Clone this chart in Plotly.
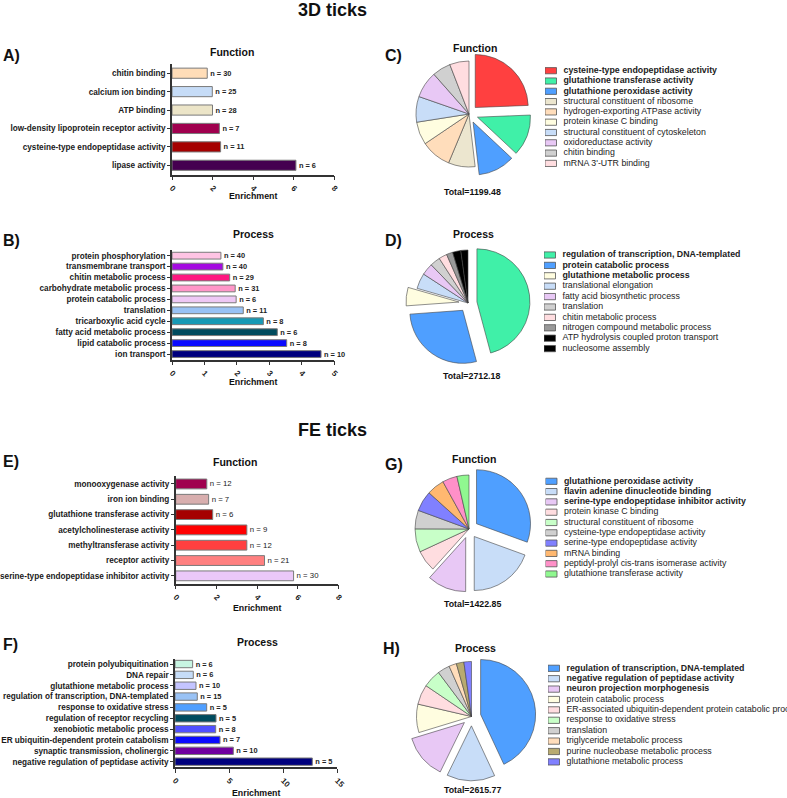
import plotly.graph_objects as go

W, H = 787, 798
FONT = "Arial, Liberation Sans, sans-serif"

# ---------------- data ----------------
# Panel A (3D ticks, Function)
a_terms = ["chitin binding", "calcium ion binding", "ATP binding",
           "low-density lipoprotein receptor activity",
           "cysteine-type endopeptidase activity", "lipase activity"]
a_enrich = [1.74, 1.99, 2.0, 2.34, 2.4, 6.12]
a_n = [30, 25, 28, 7, 11, 6]
a_colors = ["#FFDDB8", "#C6DCF7", "#ECE5C8", "#A0004E", "#A50000", "#450050"]

# Panel B (3D ticks, Process)
b_terms = ["protein phosphorylation", "transmembrane transport", "chitin metabolic process",
           "carbohydrate metabolic process", "protein catabolic process", "translation",
           "tricarboxylic acid cycle", "fatty acid metabolic process",
           "lipid catabolic process", "ion transport"]
b_enrich = [1.51, 1.57, 1.78, 1.95, 1.98, 2.2, 2.82, 3.25, 3.54, 4.6]
b_n = [40, 40, 29, 31, 6, 11, 8, 6, 8, 10]
b_colors = ["#FFC4E4", "#A40AE0", "#FF1680", "#FF96C8", "#EEC8F5", "#99C2F5",
            "#1799B5", "#004B5E", "#0A0AFF", "#00007E"]

# Panel E (FE ticks, Function)
e_terms = ["monooxygenase activity", "iron ion binding", "glutathione transferase activity",
           "acetylcholinesterase activity", "methyltransferase activity",
           "receptor activity", "serine-type endopeptidase inhibitor activity"]
e_enrich = [1.53, 1.62, 1.82, 3.5, 3.5, 4.37, 5.8]
e_n = [12, 7, 6, 9, 12, 21, 30]
e_colors = ["#A0004E", "#D8AEAE", "#A50000", "#FF0000", "#FF4040", "#FF8080", "#EAC8F8"]

# Panel F (FE ticks, Process)
f_terms = ["protein polyubiquitination", "DNA repair", "glutathione metabolic process",
           "regulation of transcription, DNA-templated", "response to oxidative stress",
           "regulation of receptor recycling", "xenobiotic metabolic process",
           "ER ubiquitin-dependent protein catabolism", "synaptic transmission, cholinergic",
           "negative regulation of peptidase activity"]
f_enrich = [1.63, 1.69, 1.94, 2.06, 2.93, 3.79, 3.76, 4.16, 5.39, 12.69]
f_n = [6, 6, 10, 15, 5, 5, 8, 7, 10, 5]
f_colors = ["#C8F5E2", "#C6DCF7", "#C4C4FF", "#99C2F5", "#4F9FFF", "#004B5E",
            "#5050FF", "#0A0AFF", "#7000A0", "#00007E"]

# Pie C (3D ticks, Function)
c_labels = ["cysteine-type endopeptidase activity", "glutathione transferase activity",
            "glutathione peroxidase activity", "structural constituent of ribosome",
            "hydrogen-exporting ATPase activity", "protein kinase C binding",
            "structural constituent of cytoskeleton", "oxidoreductase activity",
            "chitin binding", "mRNA 3'-UTR binding"]
c_values = [290, 150, 133, 97, 110, 83, 93, 97, 67, 70]
c_colors = ["#FF4040", "#40F0A8", "#4F9FFF", "#ECE6CF", "#FFDDBB", "#FFFDE0",
            "#C8DDF8", "#E8C8F5", "#D0D0D0", "#FFDDE0"]
c_total = "Total=1199.48"

# Pie D (3D ticks, Process)
d_labels = ["regulation of transcription, DNA-templated", "protein catabolic process",
            "glutathione metabolic process", "translational elongation",
            "fatty acid biosynthetic process", "translation", "chitin metabolic process",
            "nitrogen compound metabolic process", "ATP hydrolysis coupled proton transport",
            "nucleosome assembly"]
d_values = [1243, 760, 152, 128, 98, 84, 68, 52, 68, 59]
d_colors = ["#40F0A8", "#4F9FFF", "#FFFDE0", "#C8DDF8", "#E8C8F5", "#D0D0D0",
            "#FFDDE0", "#999999", "#000000", "#000000"]
d_total = "Total=2712.18"

# Pie G (FE ticks, Function)
g_labels = ["glutathione peroxidase activity", "flavin adenine dinucleotide binding",
            "serine-type endopeptidase inhibitor activity", "protein kinase C binding",
            "structural constituent of ribosome", "cysteine-type endopeptidase activity",
            "serine-type endopeptidase activity", "mRNA binding",
            "peptidyl-prolyl cis-trans isomerase activity", "glutathione transferase activity"]
g_values = [434.6, 276.7, 166, 91, 99, 79, 87, 75, 63, 51]
g_colors = ["#4F9FFF", "#C8DDF8", "#E8C8F5", "#FFDDE0", "#C8FFC8", "#D0D0D0",
            "#8080FF", "#FFB870", "#FF90C8", "#90F890"]
g_total = "Total=1422.85"

# Pie H (FE ticks, Process)
h_labels = ["regulation of transcription, DNA-templated",
            "negative regulation of peptidase activity", "neuron projection morphogenesis",
            "protein catabolic process",
            "ER-associated ubiquitin-dependent protein catabolic process",
            "response to oxidative stress", "translation", "triglyceride metabolic process",
            "purine nucleobase metabolic process", "glutathione metabolic process"]
h_values = [1126, 371, 341, 218, 153, 138, 94, 58, 58, 58]
h_colors = ["#4F9FFF", "#C8DDF8", "#E8C8F5", "#FFFDE0", "#FFDDE0", "#C8FFC8",
            "#D0D0D0", "#FFDDBB", "#B8AA70", "#8080FF"]
h_total = "Total=2615.77"

# ---------------- helpers ----------------
fig = go.Figure()
layout_axes = {}
ax_count = [0]


def px(x):
    return x / W


def py(y):
    return 1 - y / H


def xdom(a, b):
    return [max(0, px(a)), min(1, px(b))]


def ydom(top, bottom):
    return [max(0, py(bottom)), min(1, py(top))]


def new_axes(xd, yd, xcfg, ycfg):
    ax_count[0] += 1
    i = ax_count[0]
    s = "" if i == 1 else str(i)
    xc = dict(domain=xd, anchor="y" + s, automargin=False)
    xc.update(xcfg)
    yc = dict(domain=yd, anchor="x" + s, automargin=False)
    yc.update(ycfg)
    layout_axes["xaxis" + s] = xc
    layout_axes["yaxis" + s] = yc
    return "x" + s, "y" + s


def bar_panel(terms, values, ns, colors, x_px, y_px, xmax, dtick, bar_w, bold_n, n_size):
    n = len(terms)
    ytickfont = dict(family=FONT, size=8.2, color="#1a1a1a", weight="bold")
    xtickfont = dict(family=FONT, size=8, color="#1a1a1a", weight="bold")
    xa, ya = new_axes(
        xdom(*x_px), ydom(*y_px),
        dict(range=[0, xmax], dtick=dtick, tick0=0, showgrid=False, zeroline=False,
             showline=True, linecolor="#333", linewidth=1.5, ticks="outside",
             ticklen=4, tickwidth=1.2, tickcolor="#333", tickangle=45,
             tickfont=xtickfont),
        dict(type="category", categoryorder="array", categoryarray=terms,
             range=[n - 0.5, -0.5], showgrid=False, zeroline=False, showline=True,
             linecolor="#333", linewidth=1.5, ticks="outside", ticklen=3,
             tickwidth=1.2, tickcolor="#333", tickfont=ytickfont),
    )
    fig.add_trace(go.Bar(
        y=terms, x=values, orientation="h", width=bar_w,
        marker=dict(color=colors, line=dict(color="#7a7a7a", width=1)),
        text=["n = %d" % v for v in ns], textposition="outside",
        constraintext="none", cliponaxis=False,
        textfont=dict(family=FONT, size=n_size, color="#222",
                      weight="bold" if bold_n else "normal"),
        xaxis=xa, yaxis=ya, showlegend=False, hoverinfo="x+y"))


def pie_panel(labels, values, colors, pulled, cx, cy, r):
    pmax = 0.17
    half = r * (1 + pmax)
    fig.add_trace(go.Pie(
        labels=labels, values=values, sort=False, direction="clockwise", rotation=0,
        marker=dict(colors=colors, line=dict(color="#444", width=0.6)),
        pull=[pmax if i in pulled else 0 for i in range(len(labels))],
        textinfo="none", showlegend=False, hoverinfo="label+value",
        domain=dict(x=xdom(cx - half, cx + half), y=ydom(cy - half, cy + half))))


def legend_panel(labels, colors, x_left, y_first, spacing, nbold=3):
    n = len(labels)
    top = y_first - spacing / 2
    bottom = y_first + spacing * (n - 0.5)
    xa, ya = new_axes(
        xdom(x_left, W), ydom(top, bottom),
        dict(range=[0, W - x_left], visible=False, fixedrange=True),
        dict(range=[n - 0.5, -0.5], visible=False, fixedrange=True))
    idx = list(range(n))
    fig.add_trace(go.Bar(
        y=idx, x=[11.5] * n, base=0, orientation="h", width=0.6,
        marker=dict(color=colors, line=dict(color="#555", width=0.8)),
        xaxis=xa, yaxis=ya, showlegend=False, hoverinfo="skip"))
    fig.add_trace(go.Scatter(
        y=idx, x=[18.5] * n, mode="text",
        text=["<b>%s</b>" % l if i < nbold else l for i, l in enumerate(labels)],
        textposition="middle right", cliponaxis=False,
        textfont=dict(family=FONT, size=8.8, color="#222"),
        xaxis=xa, yaxis=ya, showlegend=False, hoverinfo="skip"))


# ---------------- panels ----------------
bar_panel(a_terms, a_enrich, a_n, a_colors, (172, 334), (64, 174.5), 8, 2, 0.55, True, 7.4)
bar_panel(b_terms, b_enrich, b_n, b_colors, (172, 334), (250.2, 359.5), 5, 1, 0.62, True, 7.4)
bar_panel(e_terms, e_enrich, e_n, e_colors, (175.7, 338.3), (476.3, 583.5), 8, 2, 0.64, False, 7.8)
bar_panel(f_terms, f_enrich, f_n, f_colors, (175, 337.3), (658.6, 767.1), 15, 5, 0.68, True, 7.4)

pie_panel(c_labels, c_values, c_colors, {0, 1, 2}, 469, 114, 53)
pie_panel(d_labels, d_values, d_colors, {0, 1, 2}, 468, 303, 53)
pie_panel(g_labels, g_values, g_colors, {0, 1, 2}, 469, 529, 54)
pie_panel(h_labels, h_values, h_colors, {0, 1, 2}, 471.5, 716.5, 55)

legend_panel(c_labels, c_colors, 545, 70.7, 10.3)
legend_panel(d_labels, d_colors, 544, 255, 10.4)
legend_panel(g_labels, g_colors, 545.5, 481.3, 10.3)
legend_panel(h_labels, h_colors, 548, 668.3, 10.4)

# ---------------- text annotations ----------------
ann = []


def txt(x, y, s, size, bold=True, xanchor="center"):
    ann.append(dict(x=px(x), y=py(y), xref="paper", yref="paper", text=s,
                    showarrow=False, xanchor=xanchor, yanchor="middle",
                    font=dict(family=FONT, size=size, color="#111",
                              weight="bold" if bold else "normal")))


txt(332, 10, "3D ticks", 18)
txt(332, 430, "FE ticks", 18)
for lab, x, y in [("A)", 1, 55), ("B)", 1, 241), ("E)", 1, 461), ("F)", 1, 644),
                  ("C)", 383, 55), ("D)", 383, 240), ("G)", 383, 464), ("H)", 381, 648)]:
    txt(x, y, lab, 16, xanchor="left")
for x, y, s in [(232, 52, "Function"), (253, 234, "Process"), (235, 462, "Function"),
                (257, 641.5, "Process"), (475, 48.5, "Function"), (473, 234, "Process"),
                (474, 459, "Function"), (475.5, 647.5, "Process")]:
    txt(x, y, s, 10.5)
for x, y in [(253, 196.5), (253, 381.5), (257, 608), (256, 793)]:
    txt(x, y, "Enrichment", 8.8)
for x, y, s in [(472.5, 191.5, c_total), (471, 376.5, d_total),
                (472.5, 603.5, g_total), (472, 790, h_total)]:
    txt(x, y, s, 8.8)

fig.update_layout(
    width=W, height=H, margin=dict(l=0, r=0, t=0, b=0, autoexpand=False),
    paper_bgcolor="white", plot_bgcolor="white",
    font=dict(family=FONT, color="#111"),
    annotations=ann, **layout_axes)

# the figure is drawn edge to edge: drop the page's default body margin
fig.write_html("out.html", config={"displayModeBar": False},
               post_script="document.body.style.margin='0px';")
